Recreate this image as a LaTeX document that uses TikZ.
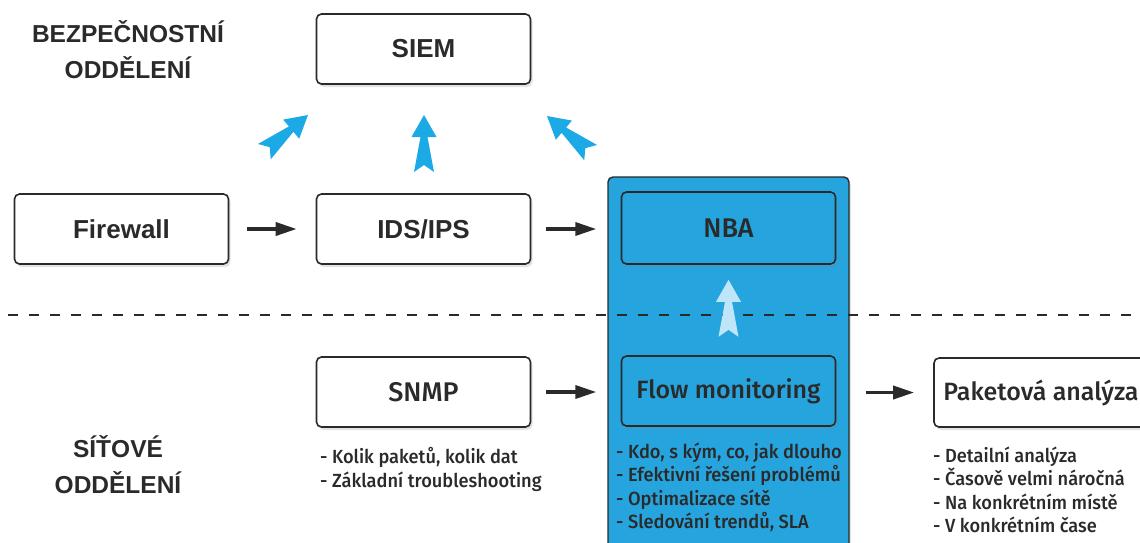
\documentclass[tikz,border=0pt]{standalone}
\usepackage{fontspec}
\setmainfont{Liberation Sans}
\newfontfamily\hdfont{Liberation Sans}
\newfontfamily\mdfont[UprightFont=* Medium]{Fira Sans}
\newfontfamily\bulfont[UprightFont=* Medium, FakeStretch=0.96]{Fira Sans}
\usetikzlibrary{arrows.meta,shadows,calc}

\definecolor{ink}{HTML}{2A2A2A}
\definecolor{zoneblue}{HTML}{26A4DE}
\definecolor{arrowblue}{HTML}{1CAAE6}
\definecolor{paleblue}{HTML}{BFE5F8}

\tikzset{
  box/.style={draw=ink, line width=1.6pt, rounded corners=5pt, fill=white,
    minimum width=214pt, minimum height=70pt, inner sep=0pt,
    drop shadow={shadow xshift=2pt, shadow yshift=-3pt, opacity=0.22}},
  bluebox/.style={box, fill=zoneblue},
  zone/.style={draw=ink, line width=1.4pt, rounded corners=5pt, fill=zoneblue,
    minimum width=241pt, minimum height=372pt, inner sep=0pt,
    drop shadow={shadow xshift=2pt, shadow yshift=-3pt, opacity=0.22}},
  hdlabel/.style={font=\hdfont\bfseries\fontsize{24.5}{36}\selectfont, text=ink, align=center},
  boxlabel/.style={font=\hdfont\bfseries\fontsize{26}{30}\selectfont, text=ink},
  mdlabel/.style={font=\mdfont\fontsize{25}{28}\selectfont, text=ink},
  bigmdlabel/.style={font=\mdfont\fontsize{27}{30}\selectfont, text=ink},
  bullets/.style={font=\bulfont\fontsize{19}{23.5}\selectfont, text=ink, align=left, anchor=north west, inner sep=0pt},
  flowarrow/.style={draw=ink, line width=3.5pt, -{Triangle[length=21pt, width=13pt]}},
  divider/.style={draw=ink, line width=1.5pt, dash pattern=on 10pt off 11pt},
  % broad arrow with a notched tail, drawn pointing up with its tip at the origin
  pics/fatarrow/.style={code={
    \fill[pic actions] (0,0) -- (12.5,22) -- (3.5,22) -- (10,57) -- (0,50)
      -- (-10,57) -- (-3.5,22) -- (-12.5,22) -- cycle;}},
}

\begin{document}
\begin{tikzpicture}[x=1pt, y=-1pt]
  \useasboundingbox (0,0) rectangle (1140,542);

  % department headings
  \node[hdlabel] (sec) at (128,50) {BEZPEČNOSTNÍ\\ODDĚLENÍ};
  \node[hdlabel] (net) at (118,465) {SÍŤOVÉ\\ODDĚLENÍ};

  % security row
  \node[box] (siem) at (423.5,49) {};
  \node[boxlabel] at (siem.center) {SIEM};
  \node[box] (fw) at (121.5,229) {};
  \node[boxlabel] at (fw.center) {Firewall};
  \node[box] (ids) at (423.5,229) {};
  \node[boxlabel] at (ids.center) {IDS/IPS};

  % NBA zone spanning both departments
  \node[zone] (zone) at (728.5,363) {};
  \node[bluebox, minimum height=72pt] (nba) at (728.5,228) {};
  \node[bigmdlabel] at (nba.center) {NBA};
  \node[bluebox] (flow) at (728.5,391) {};
  \node[mdlabel] at (flow.center) {Flow monitoring};

  % network row
  \node[box] (snmp) at (423.5,392) {};
  \node[bigmdlabel] at (snmp.center) {SNMP};
  \node[box, minimum height=69pt] (pkt) at (1041,392.5) {};
  \node[mdlabel] at (pkt.center) {Paketová analýza};

  % divider between departments
  \coordinate (dl) at (8,315);
  \coordinate (dr) at (1140,315);
  \draw[divider] (dl) -- (dr);

  % flow arrows
  \draw[flowarrow, shorten <=18pt, shorten >=19pt] (fw.east) -- (ids.west);
  \draw[flowarrow, shorten <=15pt, shorten >=11pt] (ids.east) -- (ids.east -| zone.west);
  \draw[flowarrow, shorten <=15pt, shorten >=11pt] (snmp.east) -- (snmp.east -| zone.west);
  \draw[flowarrow, shorten <=16pt, shorten >=19pt] (pkt.west -| zone.east) -- (pkt.west);

  % reporting arrows towards SIEM
  \coordinate (u1) at (308,115);
  \coordinate (u2) at (424,115);
  \coordinate (u3) at (547,116);
  \pic[fill=arrowblue, rotate=-50] at (u1) {fatarrow};
  \pic[fill=arrowblue] at (u2) {fatarrow};
  \pic[fill=arrowblue, rotate=50] at (u3) {fatarrow};

  % flow data feeding NBA
  \coordinate (u4) at ($(nba.south)+(0,15)$);
  \pic[fill=paleblue] at (u4) {fatarrow};

  % notes
  \node[bullets] (snmpnote) at (320,447.5) {- Kolik paketů, kolik dat\\- Základní troubleshooting};
  \node[bullets] (flownote) at (616,442.5) {- Kdo, s kým, co, jak dlouho\\- Efektivní řešení problémů\\- Optimalizace sítě\\- Sledování trendů, SLA};
  \node[bullets] (pktnote) at (933,446.5) {- Detailní analýza\\- Časově velmi náročná\\- Na konkrétním místě\\- V konkrétním čase};
\end{tikzpicture}
\end{document}
